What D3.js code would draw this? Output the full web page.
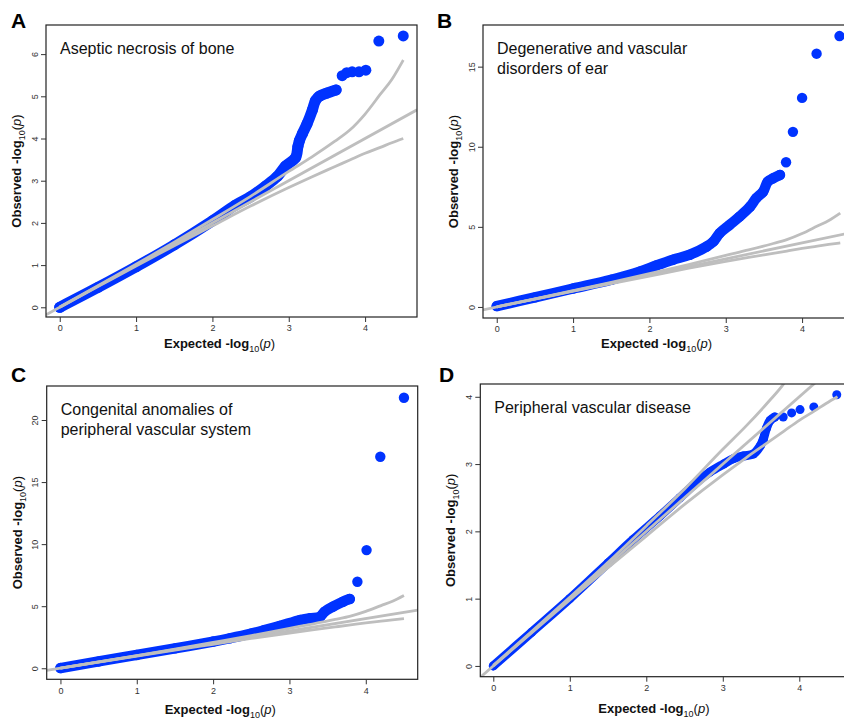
<!DOCTYPE html>
<html>
<head>
<meta charset="utf-8">
<script src="https://cdn.jsdelivr.net/npm/d3@7"></script>
<style>
  body { margin: 0; background: #fff; }
  svg { display: block; font-family: "Liberation Sans", Arial, Helvetica, sans-serif; }
</style>
</head>
<body>
<div id="container"></div>
<script>
// shared 95% band of the null QQ curve
const ciExp   = [0, 0.5, 1, 1.5, 2, 2.5, 3, 3.3, 3.6, 3.8, 4.0, 4.2, 4.35, 4.5];
const ciUpper = [0.01, 0.51, 1.02, 1.54, 2.08, 2.63, 3.22, 3.56, 3.93, 4.2, 4.58, 5.05, 5.4, 5.86];
const ciLower = [0, 0.49, 0.98, 1.46, 1.93, 2.4, 2.84, 3.09, 3.33, 3.49, 3.65, 3.79, 3.9, 4.0];

const letters = ["A", "B", "C", "D"];
const titles = [
  ["Aseptic necrosis of bone"],
  ["Degenerative and vascular", "disorders of ear"],
  ["Congenital anomalies of", "peripheral vascular system"],
  ["Peripheral vascular disease"]
];
const xTicks = [0, 1, 2, 3, 4];
const yTicksA = [0, 1, 2, 3, 4, 5, 6];
const yTicksB = [0, 5, 10, 15];
const yTicksC = [0, 5, 10, 15, 20];
const yTicksD = [0, 1, 2, 3, 4];

// A: dense part of the points, then the sparse tail
const aBandExp = [0, 0.5, 1, 1.5, 2, 2.3, 2.5, 2.7, 2.85, 2.96, 3.09, 3.12, 3.14, 3.18, 3.24, 3.31, 3.35, 3.4, 3.49, 3.62];
const aBandObs = [0, 0.47, 0.96, 1.48, 2.05, 2.42, 2.62, 2.88, 3.1, 3.35, 3.55, 3.81, 3.95, 4.12, 4.35, 4.68, 4.9, 5.0, 5.07, 5.15];
const aTailExp = [3.70, 3.76, 3.83, 3.92, 4.01, 4.18, 4.5];
const aTailObs = [5.49, 5.56, 5.58, 5.58, 5.62, 6.31, 6.43];

// B
const bBandExp = [0, 0.5, 1, 1.5, 1.88, 2.09, 2.31, 2.53, 2.75, 2.84, 2.92, 3.05, 3.18, 3.32, 3.40, 3.49, 3.55, 3.62, 3.71];
const bBandObs = [0.05, 0.6, 1.15, 1.7, 2.22, 2.59, 2.95, 3.26, 3.77, 4.09, 4.6, 5.12, 5.64, 6.27, 6.79, 7.2, 7.82, 8.03, 8.24];
const bTailExp = [3.79, 3.88, 4.0, 4.19, 4.49];
const bTailObs = [9.03, 10.93, 13.05, 15.81, 16.91];

// C
const cBandExp = [0, 0.5, 1, 1.5, 2, 2.22, 2.5, 2.66, 2.87, 3.14, 3.27, 3.4, 3.46, 3.57, 3.7, 3.79];
const cBandObs = [0.02, 0.55, 1.07, 1.6, 2.15, 2.42, 2.8, 3.05, 3.4, 3.89, 4.03, 4.15, 4.56, 4.96, 5.36, 5.58];
const cTailExp = [3.89, 4.01, 4.19, 4.5];
const cTailObs = [6.97, 9.52, 17.04, 21.79];

// D
const dBandExp = [0, 0.5, 1, 1.5, 1.83, 2.18, 2.44, 2.61, 2.83, 3.01, 3.14, 3.27, 3.40, 3.49, 3.53, 3.57, 3.62, 3.68];
const dBandObs = [0, 0.5, 1.0, 1.53, 1.88, 2.23, 2.5, 2.68, 2.88, 3.0, 3.08, 3.12, 3.15, 3.27, 3.37, 3.53, 3.65, 3.70];
const dTailExp = [3.79, 3.90, 4.01, 4.19, 4.49];
const dTailObs = [3.70, 3.76, 3.81, 3.85, 4.03];

const width = 844, height = 719;
const blue = "#0033ff", grey = "#bebebe";

const svg = d3.select("#container")
  .append("svg")
  .attr("width", width)
  .attr("height", height);

const panels = [
  { left: 46, top: 25, right: 417, bottom: 317, xDom: [-0.18, 4.68], yDom: [-0.23, 6.69],
    yTicks: yTicksA, band: [aBandExp, aBandObs], tail: [aTailExp, aTailObs], r: 5.5,
    letterX: 11, letterY: 28, xTitleY: 348 },
  { left: 483, top: 25, right: 854, bottom: 318, xDom: [-0.18, 4.68], yDom: [-0.69, 17.6],
    yTicks: yTicksB, band: [bBandExp, bBandObs], tail: [bTailExp, bTailObs], r: 5.2,
    letterX: 437, letterY: 28, xTitleY: 348 },
  { left: 46.7, top: 386, right: 417.7, bottom: 679.3, xDom: [-0.18, 4.68], yDom: [-0.89, 22.74],
    yTicks: yTicksC, band: [cBandExp, cBandObs], tail: [cTailExp, cTailObs], r: 5.2,
    letterX: 11, letterY: 382, xTitleY: 714 },
  { left: 480.3, top: 384, right: 851.3, bottom: 676.7, xDom: [-0.17, 4.68], yDom: [-0.16, 4.19],
    yTicks: yTicksD, band: [dBandExp, dBandObs], tail: [dTailExp, dTailObs], r: 4.5,
    letterX: 439, letterY: 382, xTitleY: 713 }
];

function axisTitle(sel, main) {
  sel.append("tspan").attr("font-weight", "bold").text(main + " -log");
  sel.append("tspan").attr("font-size", "9px").attr("dy", 4).text("10");
  sel.append("tspan").attr("dy", -4).text("(");
  sel.append("tspan").attr("font-style", "italic").text("p");
  sel.append("tspan").text(")");
}

panels.forEach((p, i) => {
  const x = d3.scaleLinear().domain(p.xDom).range([p.left, p.right]);
  const y = d3.scaleLinear().domain(p.yDom).range([p.bottom, p.top]);
  const g = svg.append("g");

  g.append("clipPath").attr("id", "clip" + i)
    .append("rect")
    .attr("x", p.left).attr("y", p.top)
    .attr("width", p.right - p.left).attr("height", p.bottom - p.top);

  const plot = g.append("g").attr("clip-path", `url(#clip${i})`);

  // observed points: the dense run as a thick round stroke, the tail as dots
  const bandPts = p.band[0].map((e, k) => [e, p.band[1][k]]);
  plot.append("path")
    .datum(bandPts)
    .attr("d", d3.line().curve(d3.curveCatmullRom).x(d => x(d[0])).y(d => y(d[1])))
    .attr("fill", "none")
    .attr("stroke", blue)
    .attr("stroke-width", p.r * 2)
    .attr("stroke-linecap", "round")
    .attr("stroke-linejoin", "round");

  plot.selectAll("circle.pt")
    .data(bandPts.concat(p.tail[0].map((e, k) => [e, p.tail[1][k]])))
    .join("circle")
    .attr("class", "pt")
    .attr("cx", d => x(d[0]))
    .attr("cy", d => y(d[1]))
    .attr("r", p.r)
    .attr("fill", blue);

  // null line and confidence band
  const line = d3.line().x(d => x(d[0])).y(d => y(d[1]));
  plot.append("path")
    .datum([[p.xDom[0], p.xDom[0]], [p.xDom[1], p.xDom[1]]])
    .attr("d", line)
    .attr("fill", "none").attr("stroke", grey).attr("stroke-width", 2.8);
  [ciUpper, ciLower].forEach(ci => {
    plot.append("path")
      .datum(ciExp.map((e, k) => [e, ci[k]]))
      .attr("d", line.curve(d3.curveMonotoneX))
      .attr("fill", "none").attr("stroke", grey).attr("stroke-width", 2.8);
  });

  // box
  g.append("rect")
    .attr("x", p.left).attr("y", p.top)
    .attr("width", p.right - p.left).attr("height", p.bottom - p.top)
    .attr("fill", "none").attr("stroke", "#222").attr("stroke-width", 1.2);

  // x axis
  const xAxis = g.append("g")
    .attr("transform", `translate(0,${p.bottom})`)
    .call(d3.axisBottom(x).tickValues(xTicks).tickFormat(d3.format("d"))
      .tickSize(5).tickSizeOuter(0).tickPadding(3));
  xAxis.select(".domain").remove();
  xAxis.selectAll("line").attr("stroke", "#333");
  xAxis.selectAll("text").attr("font-size", "9px").attr("fill", "#333")
    .attr("font-family", null);

  // y axis, labels parallel to the axis
  const yAxis = g.append("g")
    .attr("transform", `translate(${p.left},0)`)
    .call(d3.axisLeft(y).tickValues(p.yTicks).tickFormat(d3.format("d"))
      .tickSize(5).tickSizeOuter(0));
  yAxis.select(".domain").remove();
  yAxis.selectAll("line").attr("stroke", "#333");
  yAxis.selectAll("text")
    .attr("font-size", "9px").attr("fill", "#333").attr("font-family", null)
    .attr("x", null).attr("dy", null)
    .attr("text-anchor", "middle")
    .attr("transform", "translate(-8.5,0) rotate(-90)");

  // axis titles
  g.append("text")
    .attr("x", p.left + 118).attr("y", p.xTitleY)
    .attr("font-size", "13px").attr("fill", "#111")
    .call(axisTitle, "Expected");

  g.append("text")
    .attr("transform", `translate(${p.left - 25},${(p.top + p.bottom) / 2}) rotate(-90)`)
    .attr("text-anchor", "middle")
    .attr("font-size", "13px").attr("fill", "#111")
    .call(axisTitle, "Observed");

  // panel title
  titles[i].forEach((t, k) => {
    g.append("text")
      .attr("x", p.left + 14).attr("y", p.top + 28.5 + k * 20.7)
      .attr("font-size", "16px").attr("fill", "#111")
      .text(t);
  });

  // panel letter
  g.append("text")
    .attr("x", p.letterX).attr("y", p.letterY)
    .attr("font-size", "21px").attr("font-weight", "bold").attr("fill", "#000")
    .text(letters[i]);
});
</script>
</body>
</html>
